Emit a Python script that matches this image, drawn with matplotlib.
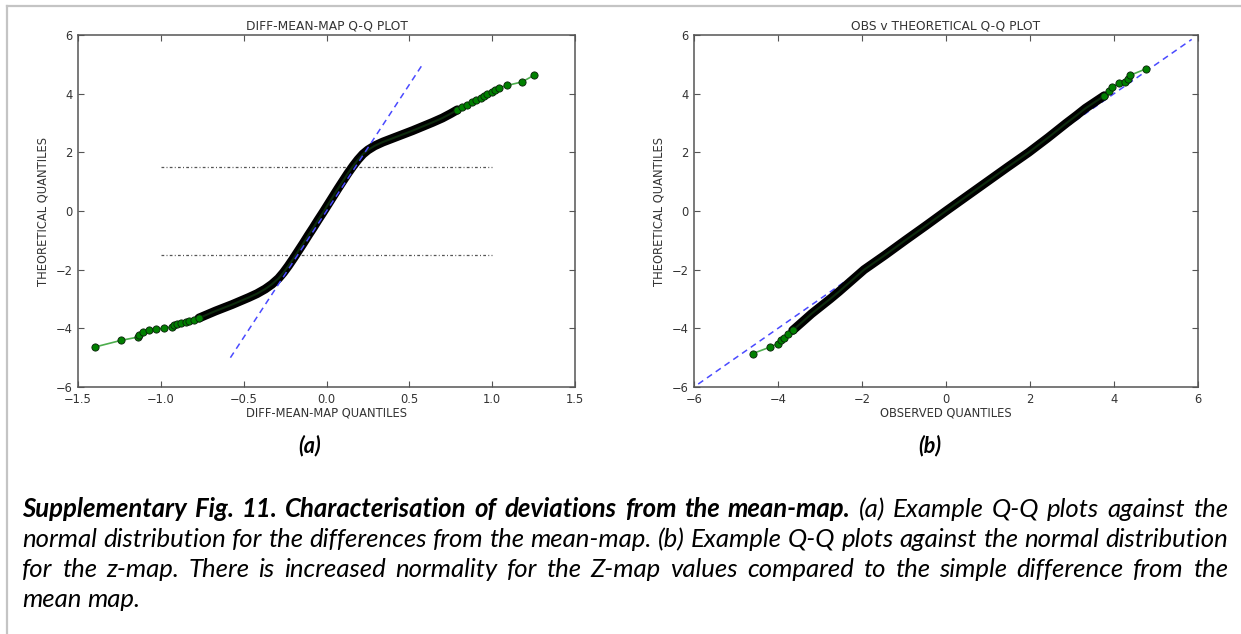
import numpy as np
import matplotlib
matplotlib.use("Agg")
import matplotlib.pyplot as plt
from matplotlib.lines import Line2D

W, H = 1241, 634

# ---- (a) diff-mean-map Q-Q data ----
a_lo_x = [-1.40, -1.24, -1.14, -1.13, -1.11, -1.07, -1.03, -0.98, -0.93, -0.92,
          -0.90, -0.88, -0.85, -0.83, -0.80, -0.77]
a_lo_y = [-4.64, -4.41, -4.30, -4.24, -4.13, -4.06, -4.03, -3.99, -3.95, -3.90,
          -3.86, -3.83, -3.80, -3.76, -3.71, -3.65]
a_core_x = [-0.77, -0.72, -0.67, -0.62, -0.57, -0.52, -0.47, -0.42, -0.37, -0.33,
            -0.29, -0.26, -0.23, -0.20, -0.17, -0.14, -0.11, -0.08, -0.05, -0.02,
            0.01, 0.04, 0.07, 0.10, 0.13, 0.16, 0.19, 0.22, 0.25, 0.29,
            0.34, 0.40, 0.46, 0.52, 0.58, 0.64, 0.70, 0.75, 0.79]
a_core_y = [-3.65, -3.53, -3.41, -3.30, -3.19, -3.07, -2.95, -2.82, -2.66, -2.50,
            -2.30, -2.10, -1.87, -1.62, -1.36, -1.10, -0.83, -0.57, -0.30, -0.04,
            0.23, 0.50, 0.77, 1.03, 1.29, 1.53, 1.75, 1.94, 2.08, 2.22,
            2.35, 2.48, 2.61, 2.74, 2.88, 3.02, 3.17, 3.32, 3.45]
a_hi_x = [0.79, 0.82, 0.85, 0.88, 0.90, 0.93, 0.95, 0.97, 1.00, 1.02, 1.04, 1.09,
          1.18, 1.25]
a_hi_y = [3.45, 3.55, 3.63, 3.70, 3.78, 3.85, 3.93, 3.98, 4.06, 4.12, 4.20, 4.28,
          4.40, 4.62]
a_ref_x = [-0.58, 0.58]
a_ref_y = [-5.0, 5.0]
a_band_y = [-1.5, 1.5]
a_band_x = [-1.0, 1.0]

# ---- (b) observed v theoretical Q-Q data ----
b_lo_x = [-4.60, -4.19, -4.01, -3.94, -3.86, -3.77, -3.65]
b_lo_y = [-4.86, -4.64, -4.52, -4.41, -4.32, -4.18, -4.07]
b_core_x = [-3.65, -3.42, -3.20, -2.98, -2.76, -2.55, -2.35, -2.15, -1.95, -1.45,
            -0.97, -0.48, 0.0, 0.49, 0.98, 1.47, 1.97, 2.20, 2.43, 2.65,
            2.87, 3.10, 3.32, 3.55, 3.77]
b_core_y = [-4.07, -3.78, -3.50, -3.25, -3.00, -2.75, -2.50, -2.25, -2.00, -1.50,
            -1.00, -0.50, 0.0, 0.50, 1.00, 1.50, 2.00, 2.25, 2.50, 2.75,
            3.00, 3.25, 3.50, 3.72, 3.93]
b_hi_x = [3.77, 3.87, 3.96, 4.12, 4.25, 4.34, 4.39, 4.75]
b_hi_y = [3.93, 4.08, 4.24, 4.35, 4.39, 4.50, 4.63, 4.84]
b_ref_x = [-5.9, 5.85]
b_ref_y = [-5.9, 5.85]

a_xticks = [-1.5, -1.0, -0.5, 0.0, 0.5, 1.0, 1.5]
b_xticks = [-6, -4, -2, 0, 2, 4, 6]
yticks = [-6, -4, -2, 0, 2, 4, 6]

caption_lines = [
    [("Supplementary Fig. 11. Characterisation of deviations from the mean-map.", "bold"),
     ("(a) Example Q-Q plots against the", "normal")],
    [("normal distribution for the differences from the mean-map. (b) Example Q-Q plots against the normal distribution", "normal")],
    [("for the z-map. There is increased normality for the Z-map values compared to the simple difference from the", "normal")],
    [("mean map.", "normal")],
]

txt = "#333333"
fig = plt.figure(figsize=(W / 100, H / 100), dpi=100)
fig.patch.set_facecolor("white")


def px_axes(l, t, r, b):
    return fig.add_axes([l / W, 1 - b / H, (r - l) / W, (b - t) / H])


def qq_panel(ax, lo_x, lo_y, core_x, core_y, hi_x, hi_y):
    allx = lo_x + core_x[1:] + hi_x[1:]
    ally = lo_y + core_y[1:] + hi_y[1:]
    ax.plot(allx, ally, "-", color=(0.3, 0.68, 0.3), lw=1.2, zorder=2)
    ax.plot(core_x, core_y, "-", color="black", lw=6.4, solid_capstyle="round",
            solid_joinstyle="round", zorder=3)
    ax.plot(core_x, core_y, "-", color="#0d2a0d", lw=1.5, zorder=3)
    for xs, ys in ((lo_x, lo_y), (hi_x, hi_y)):
        ax.plot(xs, ys, "o", color=(0, 0.5, 0), mec="#0a1f0a", mew=0.6, ms=5.2, zorder=4)


def style(ax, title, xlabel, xticks, xlim):
    ax.set_xlim(xlim)
    ax.set_ylim(-6, 6)
    ax.set_xticks(xticks)
    ax.set_yticks(yticks)
    if isinstance(xticks[0], float):
        ax.set_xticklabels([f"{v:.1f}".replace("-", "\u2212") for v in xticks])
    ax.tick_params(direction="in", top=True, right=True, length=4, width=0.8,
                   color="#555555", labelsize=8.3, labelcolor=txt)
    ax.tick_params(axis="x", pad=4)
    ax.tick_params(axis="y", pad=4)
    for s in ax.spines.values():
        s.set_color("#555555")
        s.set_linewidth(1.1)
    ax.set_title(title, fontsize=8.8, color=txt, pad=4)
    ax.set_xlabel(xlabel, fontsize=8.3, color=txt, labelpad=1)
    ax.set_ylabel("THEORETICAL QUANTILES", fontsize=8.3, color=txt, labelpad=4)


ax1 = px_axes(78, 35, 575, 387)
qq_panel(ax1, a_lo_x, a_lo_y, a_core_x, a_core_y, a_hi_x, a_hi_y)
ax1.plot(a_ref_x, a_ref_y, color="#4a4aff", lw=1.1, dashes=(4, 3), zorder=5)
for yv in a_band_y:
    ax1.plot(a_band_x, [yv, yv], color="#555555", lw=0.9, dashes=(2.2, 1.8, 0.8, 1.8), zorder=1)
style(ax1, "DIFF-MEAN-MAP Q-Q PLOT", "DIFF-MEAN-MAP QUANTILES", a_xticks, (-1.5, 1.5))

ax2 = px_axes(694, 35, 1198, 387)
ax2.plot(b_ref_x, b_ref_y, color="#4a4aff", lw=1.1, dashes=(4, 3), zorder=1)
qq_panel(ax2, b_lo_x, b_lo_y, b_core_x, b_core_y, b_hi_x, b_hi_y)
style(ax2, "OBS v THEORETICAL Q-Q PLOT", "OBSERVED QUANTILES", b_xticks, (-6, 6))

# panel letters
fig.text(310 / W, 1 - 446 / H, "(a)", fontsize=15.5, fontweight="bold", fontstyle="italic",
         family="Lato", ha="center", va="center", color="black")
fig.text(930 / W, 1 - 446 / H, "(b)", fontsize=15.5, fontweight="bold", fontstyle="italic",
         family="Lato", ha="center", va="center", color="black")

# page border (top and left only, rest is cropped)
fig.add_artist(Line2D([7 / W, 1], [1 - 6 / H, 1 - 6 / H], transform=fig.transFigure,
                      color="#c4c4c4", lw=1.6))
fig.add_artist(Line2D([7 / W, 7 / W], [0, 1 - 6 / H], transform=fig.transFigure,
                      color="#c4c4c4", lw=1.6))

# justified caption
renderer = fig.canvas.get_renderer()
left_px, right_px = 22, 1228
baselines = [517, 547, 577, 607]


def word_list(line):
    words = []
    for chunk, weight in line:
        for w in chunk.split(" "):
            words.append((w, weight))
    return words


def measure(word, weight, size):
    t = fig.text(0, 0, word, fontsize=size, fontstyle="italic", fontweight=weight, family="Lato")
    w = t.get_window_extent(renderer).width
    t.remove()
    return w


def natural_width(line, size):
    words = word_list(line)
    sp = measure("a a", "normal", size) - 2 * measure("a", "normal", size)
    return sum(measure(w, wt, size) for w, wt in words) + sp * (len(words) - 1)


base = 13.0
cap_size = base * (right_px - left_px - 4) / natural_width(caption_lines[1], base)

for i, line in enumerate(caption_lines):
    words = word_list(line)
    widths = [measure(w, wt, cap_size) for w, wt in words]
    if i < 3 and len(words) > 1:
        gap = (right_px - left_px - sum(widths)) / (len(words) - 1)
    else:
        gap = measure("a a", "normal", cap_size) - 2 * measure("a", "normal", cap_size)
    x = left_px
    for (w, wt), wd in zip(words, widths):
        fig.text(x / W, 1 - baselines[i] / H, w, fontsize=cap_size, fontstyle="italic",
                 fontweight=wt, family="Lato", va="baseline", ha="left", color="black")
        x += wd + gap

fig.savefig("out.png", dpi=100, facecolor="white")
